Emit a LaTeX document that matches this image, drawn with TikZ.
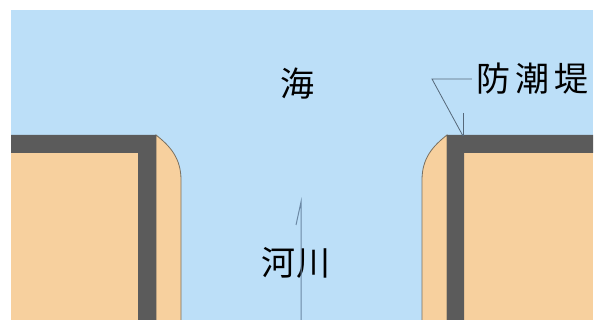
\documentclass[tikz,border=0pt]{standalone}
\usepackage{fontspec}
\newfontfamily\cjk{Noto Sans CJK JP}
\definecolor{sea}{HTML}{BCDFF8}
\definecolor{land}{HTML}{F7D09E}
\definecolor{wall}{HTML}{5B5B5B}
\definecolor{edge}{HTML}{7A7060}
\definecolor{leader}{HTML}{56687A}
\definecolor{flow}{HTML}{6B88A4}
\tikzset{
  lbl/.style={font=\cjk\fontsize{34}{38}\selectfont, inner sep=0pt, text=black},
  landfill/.style={fill=land},
  slope/.style={fill=land, draw=edge, line width=0.8pt},
  wallfill/.style={fill=wall},
  leaderline/.style={draw=leader, line width=0.8pt},
  flowline/.style={draw=flow, line width=1pt}
}
\begin{document}
\begin{tikzpicture}[x=1pt,y=-1pt]
\useasboundingbox (0,0) rectangle (594,320);
\fill[white] (0,0) rectangle (594,320);
\fill[sea] (11,10) rectangle (593,320);
% left bank
\path[slope] (156,320) -- (156,135) .. controls (170,146) and (181,158) .. (181,180) -- (181,320);
\fill[landfill] (11,153) rectangle (138,320);
\fill[wallfill] (11,135) -- (156,135) -- (156,320) -- (138,320) -- (138,153) -- (11,153) -- cycle;
% right bank
\path[slope] (447,320) -- (447,135) .. controls (433,146) and (422,158) .. (422,180) -- (422,320);
\fill[landfill] (464,153) rectangle (593,320);
\fill[wallfill] (593,135) -- (447,135) -- (447,320) -- (464,320) -- (464,153) -- (593,153) -- cycle;
% labels
\node[lbl] (sea) at (297,84) {海};
\node[lbl] (river) at (296,263) {河\hspace{1pt}川};
\node[lbl] (dike) at (532,79) {防\hspace{5pt}潮\hspace{5pt}堤};
% leader
\coordinate (knee) at (432,79);
\coordinate (corner) at (463,136);
\coordinate (tick) at (463,113);
\draw[leaderline] ([xshift=-4pt]dike.west) -- (knee) -- (corner);
\draw[leaderline] (tick) -- (corner);
% flow arrow
\coordinate (ftop) at (301,202);
\coordinate (fbot) at (301,320);
\coordinate (fbarb) at (296,225);
\draw[flowline] (fbot) -- (ftop) -- (fbarb);
\end{tikzpicture}
\end{document}
